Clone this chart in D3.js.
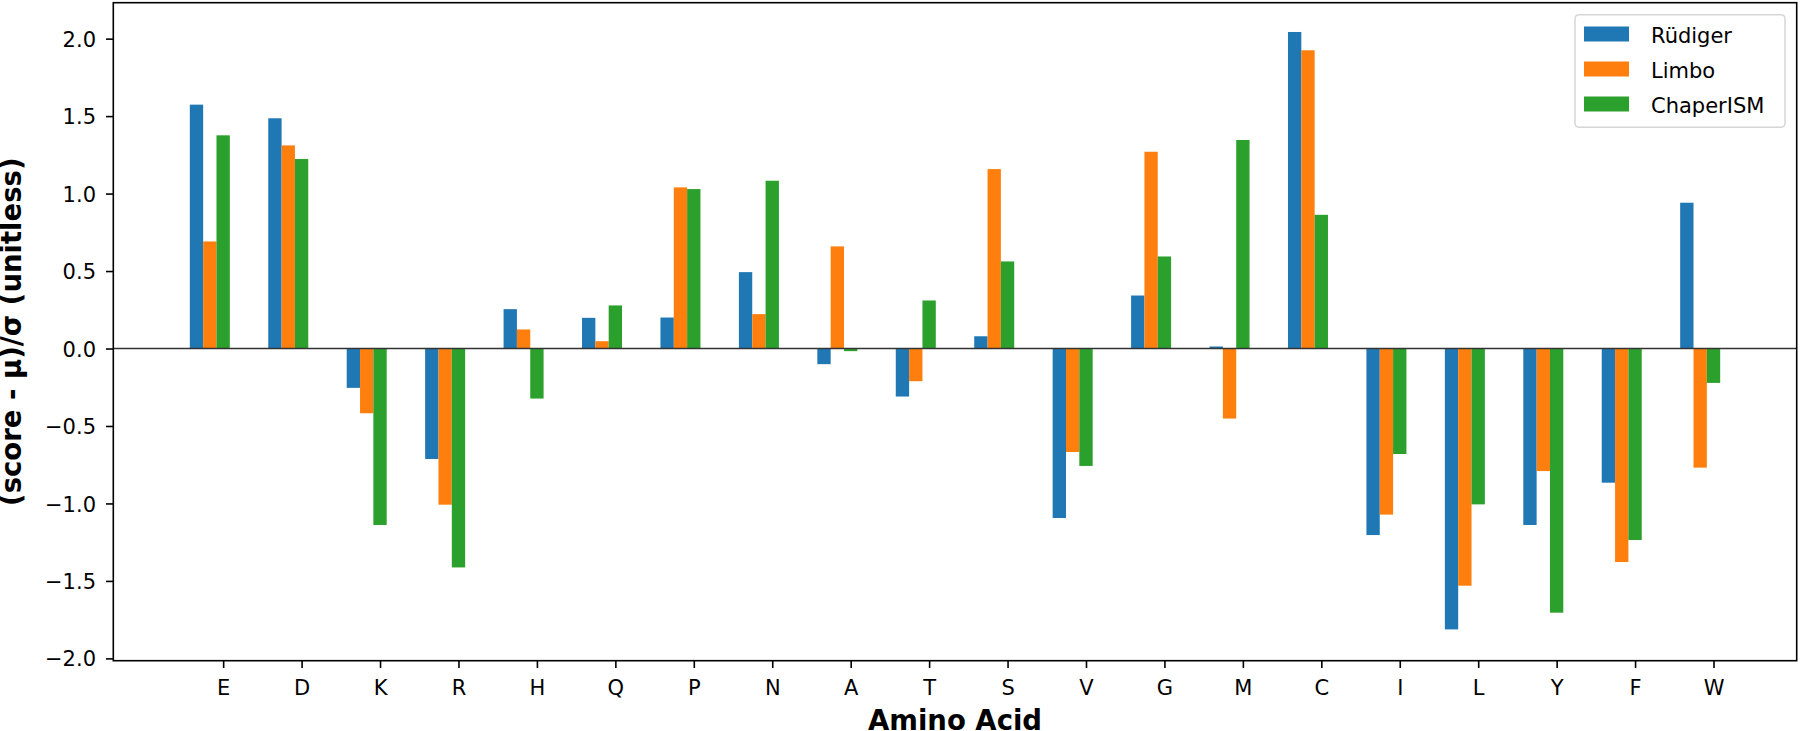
<!DOCTYPE html>
<html>
<head>
<meta charset="utf-8">
<script src="https://cdn.jsdelivr.net/npm/d3@7"></script>
<style>
  body { margin: 0; background: #fff; }
  text { font-family: "DejaVu Sans", sans-serif; fill: #000; }
  .tickLb { font-size: 21px; }
  .axisLb { font-size: 27.5px; font-weight: bold; }
  .legLb { font-size: 21px; }
</style>
</head>
<body>
<div id="main"></div>
<script>
var ctx = {
    w: 1800,
    h: 731,
    left: 113.3, right: 1796.7, top: 2.7, bottom: 660.7,
    barW: 0.17,
    tickLen: 7.3,
    colors: ["#1f77b4", "#ff7f0e", "#2ca02c"]
};

// amino acids in plotted order
var aminoAcids = ["E","D","K","R","H","Q","P","N","A","T","S","V","G","M","C","I","L","Y","F","W"];
var seriesNames = ["Rüdiger", "Limbo", "ChaperISM"];
// z-scores
var rudiger   = [1.574, 1.486, -0.254, -0.713, 0.254, 0.198, 0.200, 0.493, -0.101, -0.310, 0.079, -1.094, 0.342, 0.013, 2.043, -1.204, -1.813, -1.139, -0.866, 0.941];
var limbo     = [0.691, 1.311, -0.418, -1.008, 0.123, 0.047, 1.040, 0.222, 0.659, -0.211, 1.158, -0.668, 1.270, -0.452, 1.925, -1.072, -1.531, -0.791, -1.378, -0.769];
var chaperism = [1.376, 1.223, -1.139, -1.413, -0.323, 0.278, 1.029, 1.083, -0.017, 0.310, 0.562, -0.758, 0.594, 1.346, 0.863, -0.681, -1.006, -1.705, -1.236, -0.222];
var yTicks = [-2.0, -1.5, -1.0, -0.5, 0.0, 0.5, 1.0, 1.5, 2.0];
var yDomain = [-2.015, 2.232];

var initSVGcanvas = function(){
    var n = aminoAcids.length;
    var span = (n - 1) + 3*ctx.barW;
    var margin = 0.05*span;
    // tick sits on the third bar, so groups extend 2.5 bars left and 0.5 right
    ctx.xScale = d3.scaleLinear()
                   .domain([-2.5*ctx.barW - margin, (n - 1) + 0.5*ctx.barW + margin])
                   .range([ctx.left, ctx.right]);
    ctx.yScale = d3.scaleLinear().domain(yDomain)
                   .range([ctx.bottom, ctx.top]);

    var bkg = d3.select("#bkgG");
    // x axis
    var xAxis = d3.axisBottom(ctx.xScale)
                  .tickValues(d3.range(n))
                  .tickFormat(function(i){ return aminoAcids[i]; })
                  .tickSize(ctx.tickLen).tickPadding(0).tickSizeOuter(0);
    var gx = bkg.append("g")
      .attr("transform", `translate(0,${ctx.bottom})`)
      .call(xAxis);
    gx.select(".domain").remove();
    gx.selectAll("line").attr("stroke", "#000").attr("stroke-width", 1.6);
    gx.selectAll("text")
      .attr("class", "tickLb")
      .attr("y", 34.5).attr("dy", null)
      .attr("font-family", null).attr("font-size", null)
      .style("text-anchor", "middle");

    // y axis
    var yAxis = d3.axisLeft(ctx.yScale)
                  .tickValues(yTicks)
                  .tickFormat(function(d){ return d3.format(".1f")(d).replace("-", "\u2212"); })
                  .tickSize(ctx.tickLen).tickPadding(10).tickSizeOuter(0);
    var gy = bkg.append("g")
      .attr("transform", `translate(${ctx.left},0)`)
      .call(yAxis);
    gy.select(".domain").remove();
    gy.selectAll("line").attr("stroke", "#000").attr("stroke-width", 1.6);
    gy.selectAll("text")
      .attr("class", "tickLb")
      .attr("dy", "0.36em")
      .attr("font-family", null).attr("font-size", null)
      .style("text-anchor", "end");

    // x-axis label
    bkg.append("text")
      .attr("x", (ctx.left + ctx.right)/2)
      .attr("y", 730)
      .attr("class", "axisLb")
      .style("text-anchor", "middle")
      .text("Amino Acid");
    // y-axis label
    bkg.append("text")
      .attr("transform", `translate(20.5,${(ctx.top + ctx.bottom)/2}) rotate(-90)`)
      .attr("class", "axisLb")
      .style("text-anchor", "middle")
      .text("(score - \u03bc)/\u03c3 (unitless)");
};

var populateSVGcanvas = function(){
    var series = [rudiger, limbo, chaperism];
    var group = d3.select("#rootG").append("g").attr("id", "barsG");
    var bw = ctx.xScale(ctx.barW) - ctx.xScale(0);

    series.forEach(function(values, k){
        group.append("g")
          .selectAll("rect")
          .data(values)
          .enter()
          .append("rect")
          .attr("x", function(d, i){ return ctx.xScale(i + (k - 2)*ctx.barW) - bw/2; })
          .attr("width", bw)
          .attr("y", function(d){ return ctx.yScale(Math.max(0, d)); })
          .attr("height", function(d){ return Math.abs(ctx.yScale(d) - ctx.yScale(0)); })
          .attr("fill", ctx.colors[k]);
    });

    // zero line drawn over the bars
    d3.select("#rootG").append("line")
      .attr("x1", ctx.left).attr("x2", ctx.right)
      .attr("y1", ctx.yScale(0)).attr("y2", ctx.yScale(0))
      .attr("stroke", "#333")
      .attr("stroke-width", 1.5);

    // axes frame
    d3.select("#rootG").append("rect")
      .attr("x", ctx.left).attr("y", ctx.top)
      .attr("width", ctx.right - ctx.left)
      .attr("height", ctx.bottom - ctx.top)
      .attr("fill", "none")
      .attr("stroke", "#000")
      .attr("stroke-width", 1.6);

    // legend
    var leg = d3.select("#rootG").append("g").attr("id", "legendG");
    leg.append("rect")
      .attr("x", 1575).attr("y", 14.7)
      .attr("width", 210).attr("height", 112.6)
      .attr("rx", 4)
      .attr("fill", "#fff").attr("fill-opacity", 0.8)
      .attr("stroke", "#d6d6d6").attr("stroke-width", 1.5);
    var rows = leg.selectAll("g.row")
      .data(seriesNames)
      .enter()
      .append("g")
      .attr("class", "row")
      .attr("transform", function(d, i){ return `translate(0,${34 + i*35})`; });
    rows.append("rect")
      .attr("x", 1584).attr("y", -7.5)
      .attr("width", 45).attr("height", 15)
      .attr("fill", function(d, i){ return ctx.colors[i]; });
    rows.append("text")
      .attr("x", 1651).attr("y", 8.5)
      .attr("class", "legLb")
      .text(function(d){ return d; });
};

var createViz = function(){
    var svgEl = d3.select("#main").append("svg");
    svgEl.attr("width", ctx.w);
    svgEl.attr("height", ctx.h);
    var rootG = svgEl.append("g").attr("id", "rootG");
    rootG.append("g").attr("id", "bkgG");
    initSVGcanvas();
    populateSVGcanvas();
};

createViz();
</script>
</body>
</html>
